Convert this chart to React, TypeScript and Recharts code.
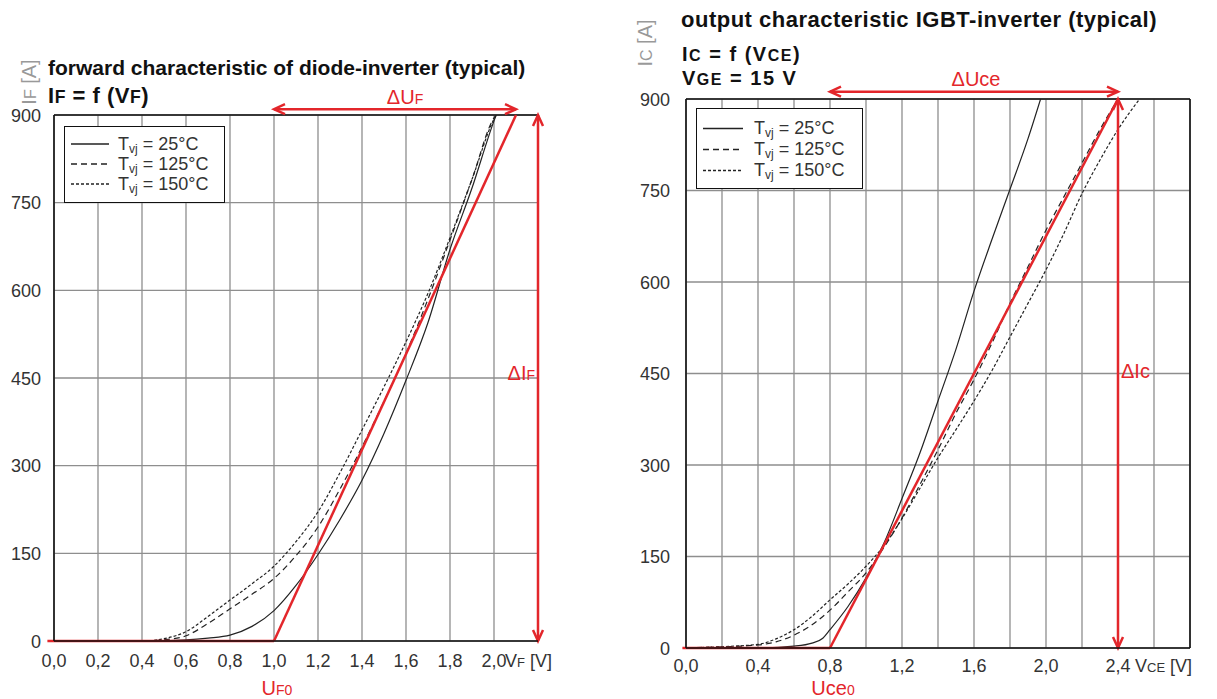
import React from "react";
import {
  LineChart,
  Line,
  XAxis,
  YAxis,
  CartesianGrid,
  ReferenceLine,
  Legend,
} from "recharts";

const RED = "#e3262b";
const GRID = "#8e8e8e";
const INK = "#333";
const FONT = "'Liberation Sans', Arial, Helvetica, sans-serif";

// diode-inverter forward characteristic: [V_F (V), I_F (A)]
const diode25: [number, number][] = [
  [0, 0], [0.4, 0], [0.6, 2], [0.7, 5], [0.8, 10], [0.9, 25], [1.0, 52],
  [1.1, 95], [1.2, 148], [1.3, 208], [1.4, 275], [1.5, 355], [1.6, 446],
  [1.7, 545], [1.8, 670], [1.9, 775], [2.0, 890], [2.01, 900],
];
const diode125: [number, number][] = [
  [0, 0], [0.4, 0], [0.5, 2], [0.6, 9], [0.7, 30], [0.8, 55], [0.9, 80],
  [1.0, 107], [1.1, 146], [1.2, 195], [1.3, 260], [1.4, 332], [1.5, 410],
  [1.6, 492], [1.7, 585], [1.8, 686], [1.9, 790], [2.0, 895], [2.01, 900],
];
const diode150: [number, number][] = [
  [0, 0], [0.4, 0], [0.5, 4], [0.6, 16], [0.7, 42], [0.8, 70], [0.9, 98],
  [1.0, 128], [1.1, 170], [1.2, 221], [1.3, 288], [1.4, 361], [1.5, 435],
  [1.6, 512], [1.7, 595], [1.8, 690], [1.9, 790], [2.0, 893], [2.01, 900],
];
const diodeXTicks = [0, 0.2, 0.4, 0.6, 0.8, 1.0, 1.2, 1.4, 1.6, 1.8, 2.0];
const diodeXLabels = diodeXTicks;

// IGBT-inverter output characteristic, V_GE = 15 V: [V_CE (V), I_C (A)]
const igbt25: [number, number][] = [
  [0, 0], [0.4, 0], [0.6, 3], [0.7, 8], [0.76, 16], [0.8, 30], [0.9, 68],
  [1.0, 115], [1.1, 172], [1.2, 245], [1.3, 320], [1.4, 405], [1.5, 490],
  [1.6, 585], [1.7, 670], [1.8, 752], [1.9, 835], [1.97, 900],
];
const igbt125: [number, number][] = [
  [0, 0], [0.1, 1], [0.4, 5], [0.5, 10], [0.6, 21], [0.7, 38], [0.8, 62],
  [0.9, 92], [1.0, 123], [1.1, 165], [1.2, 213], [1.3, 268], [1.4, 325],
  [1.5, 385], [1.6, 440], [1.7, 500], [1.8, 565], [1.9, 625], [2.0, 685],
  [2.1, 740], [2.2, 795], [2.3, 850], [2.4, 900],
];
const igbt150: [number, number][] = [
  [0, 0], [0.1, 1], [0.4, 6], [0.5, 15], [0.6, 30], [0.7, 52], [0.8, 79],
  [0.9, 105], [1.0, 134], [1.1, 168], [1.2, 212], [1.3, 262], [1.4, 312],
  [1.5, 358], [1.6, 405], [1.7, 455], [1.8, 510], [1.9, 565], [2.0, 620],
  [2.1, 680], [2.2, 745], [2.3, 800], [2.4, 850], [2.52, 900],
];
const igbtXTicks = [0, 0.2, 0.4, 0.6, 0.8, 1.0, 1.2, 1.4, 1.6, 1.8, 2.0, 2.2, 2.4, 2.6];
const igbtXLabels = [0, 0.4, 0.8, 1.2, 1.6, 2.0, 2.4];

const currentTicks = [0, 150, 300, 450, 600, 750, 900];

// linearised model (threshold voltage and the point at full current)
const diodeUF0 = 1.0;
const diodeUFmax = 2.1;
const igbtUce0 = 0.8;
const igbtUcemax = 2.4;

const temps = ["25°C", "125°C", "150°C"];
const dashes: Record<string, string | undefined> = {
  "25°C": undefined,
  "125°C": "6 4",
  "150°C": "3 2",
};

const toPoints = (arr: [number, number][]) => arr.map(([v, i]) => ({ v, i }));
const same = (a: number, b: number) => Math.abs(a - b) < 1e-6;
const comma = (v: number) => v.toFixed(1).replace(".", ",");

function XTick(props: any) {
  const { x, y, payload, labels, unitAt, unitGap, unitSub, dy } = props;
  const v = payload.value as number;
  if (!labels.some((l: number) => same(l, v))) return <g />;
  return (
    <g fontFamily={FONT} fontSize={18} fill={INK}>
      <text x={x} y={y + dy} textAnchor="middle">{comma(v)}</text>
      {same(v, unitAt) && (
        <text x={x + unitGap} y={y + dy} textAnchor="start">
          V<tspan fontSize={13}>{unitSub}</tspan> [V]
        </text>
      )}
    </g>
  );
}

function YTick(props: any) {
  const { x, y, payload, gap } = props;
  return (
    <text x={x - gap} y={y + 6.5} textAnchor="end" fontFamily={FONT} fontSize={18} fill={INK}>
      {payload.value}
    </text>
  );
}

function Head({ x, y, a }: { x: number; y: number; a: number }) {
  const L = 11;
  const W = 5;
  const bx = x - L * Math.cos(a);
  const by = y - L * Math.sin(a);
  const px = -Math.sin(a) * W;
  const py = Math.cos(a) * W;
  return (
    <polyline
      points={`${bx + px},${by + py} ${x},${y} ${bx - px},${by - py}`}
      fill="none"
      stroke={RED}
      strokeWidth={2.5}
    />
  );
}

// double arrow with its red label
function Arrow(props: any) {
  const { x1, y1, x2, y2, text, sub, lx, ly, anchor } = props;
  const a = Math.atan2(y2 - y1, x2 - x1);
  const mx = (x1 + x2) / 2;
  const my = (y1 + y2) / 2;
  return (
    <g>
      <line x1={x1} y1={y1} x2={x2} y2={y2} stroke={RED} strokeWidth={2.5} />
      <Head x={x2} y={y2} a={a} />
      <Head x={x1} y={y1} a={a + Math.PI} />
      <text x={mx + lx} y={my + ly} textAnchor={anchor} fontFamily={FONT} fontSize={20} fill={RED}>
        {text}
        <tspan fontSize={14}>{sub}</tspan>
      </text>
    </g>
  );
}

// red zero line ending at the threshold voltage, labelled below the axis
function ThresholdLine(props: any) {
  const { x1, y1, x2, y2, text, sub, ly } = props;
  return (
    <g>
      <line x1={x1} y1={y1} x2={x2} y2={y2} stroke={RED} strokeWidth={2.5} />
      <text x={x2 + 3} y={y2 + ly} textAnchor="middle" fontFamily={FONT} fontSize={20} fill={RED}>
        {text}
        <tspan fontSize={14}>{sub}</tspan>
      </text>
    </g>
  );
}

function LegendBox(props: any) {
  const { payload, w, h, lineW, textX, rowH, padTop } = props;
  const items = [...(payload || [])].sort(
    (a: any, b: any) => temps.indexOf(a.value) - temps.indexOf(b.value)
  );
  return (
    <div
      style={{
        boxSizing: "border-box",
        width: w,
        height: h,
        border: "1.6px solid #111",
        background: "#fff",
        paddingTop: padTop,
        fontFamily: FONT,
        fontSize: 18,
        color: INK,
      }}
    >
      {items.map((e: any) => (
        <div key={e.value} style={{ position: "relative", height: rowH, lineHeight: `${rowH}px` }}>
          <svg width={lineW + 8} height={rowH} style={{ position: "absolute", left: 0, top: 0 }}>
            <line
              x1={6}
              x2={6 + lineW}
              y1={rowH / 2}
              y2={rowH / 2}
              stroke="#222"
              strokeWidth={1.3}
              strokeDasharray={dashes[e.value]}
            />
          </svg>
          <span style={{ position: "absolute", left: textX, top: 0, whiteSpace: "nowrap" }}>
            T<span style={{ fontSize: 12, verticalAlign: -3 }}>vj</span> = {e.value}
          </span>
        </div>
      ))}
    </div>
  );
}

const sub = (s: string) => <span style={{ fontSize: "0.8em" }}>{s}</span>;

function Abs({ left, top, children, style }: any) {
  return (
    <div style={{ position: "absolute", left, top, whiteSpace: "nowrap", fontFamily: FONT, lineHeight: 1, ...style }}>
      {children}
    </div>
  );
}

function DiodeChart() {
  return (
    <LineChart width={600} height={699} margin={{ top: 115, right: 62, bottom: 0, left: 0 }}>
      <CartesianGrid stroke={GRID} strokeWidth={1.3} />
      <XAxis
        dataKey="v"
        type="number"
        domain={[0, 2.2]}
        ticks={diodeXTicks}
        allowDataOverflow
        height={58}
        tickSize={0}
        tickMargin={0}
        tickLine={false}
        axisLine={{ stroke: "#111", strokeWidth: 1.6 }}
        tick={(p: any) => (
          <XTick {...p} labels={diodeXLabels} unitAt={2.0} unitGap={11} unitSub="F" dy={26} />
        )}
      />
      <YAxis
        type="number"
        domain={[0, 900]}
        ticks={currentTicks}
        allowDataOverflow
        width={54}
        tickSize={0}
        tickMargin={0}
        tickLine={false}
        axisLine={{ stroke: "#111", strokeWidth: 1.6 }}
        tick={(p: any) => <YTick {...p} gap={13} />}
      />
      <ReferenceLine y={900} stroke="#111" strokeWidth={1.6} />
      <ReferenceLine x={2.2} stroke="#111" strokeWidth={1.6} />
      <Line data={toPoints(diode25)} dataKey="i" name="25°C" type="monotone" dot={false} stroke="#222" strokeWidth={1.2} isAnimationActive={false} />
      <Line data={toPoints(diode125)} dataKey="i" name="125°C" type="monotone" dot={false} stroke="#222" strokeWidth={1.2} strokeDasharray={dashes["125°C"]} isAnimationActive={false} />
      <Line data={toPoints(diode150)} dataKey="i" name="150°C" type="monotone" dot={false} stroke="#222" strokeWidth={1.2} strokeDasharray={dashes["150°C"]} isAnimationActive={false} />
      <ReferenceLine
        segment={[{ x: -0.03, y: 0 }, { x: diodeUF0, y: 0 }]}
        ifOverflow="visible"
        shape={(p: any) => <ThresholdLine {...p} text="U" sub="F0" ly={54} />}
      />
      <ReferenceLine
        segment={[{ x: diodeUF0, y: 0 }, { x: diodeUFmax, y: 900 }]}
        ifOverflow="visible"
        stroke={RED}
        strokeWidth={2.5}
      />
      <ReferenceLine
        segment={[{ x: diodeUF0, y: 910 }, { x: diodeUFmax, y: 910 }]}
        ifOverflow="visible"
        shape={(p: any) => <Arrow {...p} text="ΔU" sub="F" lx={10} ly={-5} anchor="middle" />}
      />
      <ReferenceLine
        segment={[{ x: 2.2, y: 0 }, { x: 2.2, y: 900 }]}
        ifOverflow="visible"
        shape={(p: any) => <Arrow {...p} text="ΔI" sub="F" lx={-3} ly={2} anchor="end" />}
      />
      <Legend
        layout="horizontal"
        verticalAlign="middle"
        align="center"
        wrapperStyle={{ left: 64, top: 126, width: 161 }}
        content={(p: any) => (
          <LegendBox {...p} w={161} h={77} lineW={38} textX={53} rowH={20} padTop={7} />
        )}
      />
    </LineChart>
  );
}

function IgbtChart() {
  return (
    <LineChart width={617} height={699} margin={{ top: 99, right: 27, bottom: 0, left: 0 }}>
      <CartesianGrid stroke={GRID} strokeWidth={1.3} />
      <XAxis
        dataKey="v"
        type="number"
        domain={[0, 2.8]}
        ticks={igbtXTicks}
        allowDataOverflow
        height={51}
        tickSize={0}
        tickMargin={0}
        tickLine={false}
        axisLine={{ stroke: "#111", strokeWidth: 1.6 }}
        tick={(p: any) => (
          <XTick {...p} labels={igbtXLabels} unitAt={2.4} unitGap={17} unitSub="CE" dy={24} />
        )}
      />
      <YAxis
        type="number"
        domain={[0, 900]}
        ticks={currentTicks}
        allowDataOverflow
        width={86}
        tickSize={0}
        tickMargin={0}
        tickLine={false}
        axisLine={{ stroke: "#111", strokeWidth: 1.6 }}
        tick={(p: any) => <YTick {...p} gap={16} />}
      />
      <ReferenceLine y={900} stroke="#111" strokeWidth={1.6} />
      <ReferenceLine x={2.8} stroke="#111" strokeWidth={1.6} />
      <Line data={toPoints(igbt25)} dataKey="i" name="25°C" type="monotone" dot={false} stroke="#222" strokeWidth={1.2} isAnimationActive={false} />
      <Line data={toPoints(igbt125)} dataKey="i" name="125°C" type="monotone" dot={false} stroke="#222" strokeWidth={1.2} strokeDasharray={dashes["125°C"]} isAnimationActive={false} />
      <Line data={toPoints(igbt150)} dataKey="i" name="150°C" type="monotone" dot={false} stroke="#222" strokeWidth={1.2} strokeDasharray={dashes["150°C"]} isAnimationActive={false} />
      <ReferenceLine
        segment={[{ x: -0.02, y: 0 }, { x: igbtUce0, y: 0 }]}
        ifOverflow="visible"
        shape={(p: any) => <ThresholdLine {...p} text="Uce" sub="0" ly={47} />}
      />
      <ReferenceLine
        segment={[{ x: igbtUce0, y: 0 }, { x: igbtUcemax, y: 900 }]}
        ifOverflow="visible"
        stroke={RED}
        strokeWidth={2.5}
      />
      <ReferenceLine
        segment={[{ x: igbtUce0, y: 912 }, { x: igbtUcemax, y: 912 }]}
        ifOverflow="visible"
        shape={(p: any) => <Arrow {...p} text="ΔUce" sub="" lx={2} ly={-6} anchor="middle" />}
      />
      <ReferenceLine
        segment={[{ x: igbtUcemax, y: 0 }, { x: igbtUcemax, y: 900 }]}
        ifOverflow="visible"
        shape={(p: any) => <Arrow {...p} text="ΔIc" sub="" lx={3} ly={4} anchor="start" />}
      />
      <Legend
        layout="horizontal"
        verticalAlign="middle"
        align="center"
        wrapperStyle={{ left: 96, top: 108, width: 167 }}
        content={(p: any) => (
          <LegendBox {...p} w={167} h={81} lineW={40} textX={57} rowH={21} padTop={9} />
        )}
      />
    </LineChart>
  );
}

const bold = { fontSize: 22, fontWeight: "bold", color: "#111", letterSpacing: 0.5, lineHeight: "20px" };
const boldSmall = { fontSize: 20, fontWeight: "bold", color: "#111", letterSpacing: 1.5, lineHeight: "20px" };

export default function App() {
  return (
    <div
      style={{
        position: "fixed",
        left: 0,
        top: 0,
        width: 1217,
        height: 699,
        background: "#fff",
        overflow: "hidden",
        fontFamily: FONT,
      }}
    >
      <div style={{ position: "absolute", left: 0, top: 0 }}>
        <DiodeChart />
      </div>
      <div style={{ position: "absolute", left: 600, top: 0 }}>
        <IgbtChart />
      </div>

      <Abs left={48} top={57} style={{ fontSize: 21, fontWeight: "bold", color: "#111" }}>
        forward characteristic of diode-inverter (typical)
      </Abs>
      <Abs left={48} top={85.5} style={bold}>
        I{sub("F")} = f (V{sub("F")})
      </Abs>
      <Abs left={29} top={82} style={{ fontSize: 20, color: "#999", transform: "translate(-50%, -50%) rotate(-90deg)" }}>
        I{sub("F")} [A]
      </Abs>

      <Abs left={681} top={8.5} style={{ fontSize: 22, fontWeight: "bold", color: "#111", letterSpacing: 0.5 }}>
        output characteristic IGBT-inverter (typical)
      </Abs>
      <Abs left={682} top={44} style={boldSmall}>
        I{sub("C")} = f (V{sub("CE")})
      </Abs>
      <Abs left={682} top={68} style={boldSmall}>
        V{sub("GE")} = 15 V
      </Abs>
      <Abs left={645} top={43} style={{ fontSize: 20, color: "#999", transform: "translate(-50%, -50%) rotate(-90deg)" }}>
        I{sub("C")} [A]
      </Abs>
    </div>
  );
}
